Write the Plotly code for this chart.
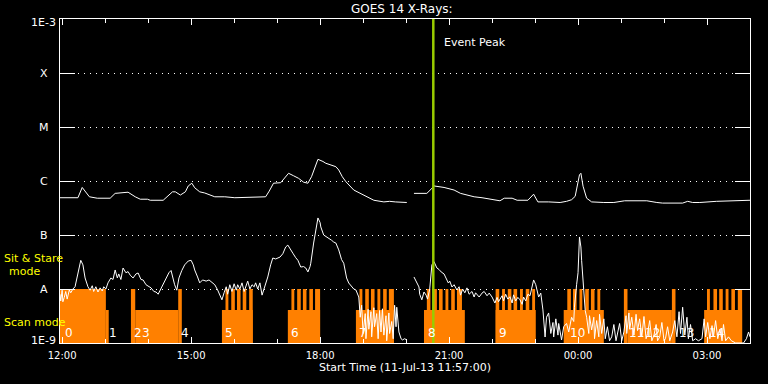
import math
import plotly.graph_objects as go

# ---------------- data ----------------
X_START = "11:57"
X_END = "04:00"
EVENT_PEAK = "20:38"

class_labels = ["1E-3", "X", "M", "C", "B", "A", "1E-9"]
class_flux = [1e-3, 1e-4, 1e-5, 1e-6, 1e-7, 1e-8, 1e-9]

# GOES 1-8 A (upper curve)
long_times = ["11:57", "12:11", "12:22", "12:28", "12:38", "12:49", "13:07", "13:14", "13:25", "13:32",
              "13:42", "13:49", "13:59", "14:03", "14:21", "14:27", "14:34", "14:38", "14:45", "14:52",
              "14:56", "15:01", "15:05", "15:12", "15:19", "15:33", "15:47", "16:01", "16:15", "16:29",
              "16:44", "16:49", "16:55", "17:05", "17:12", "17:16", "17:23", "17:30", "17:37", "17:43",
              "17:48", "17:54", "17:57", "18:04", "18:08", "18:22", "18:26", "18:31", "18:36", "18:47",
              "19:01", "19:15", "19:29", "19:37", "19:45", "19:58", "20:01", "20:06", "20:11", "20:29",
              "20:36", "20:39", "20:53", "21:07", "21:16", "21:35", "21:46", "22:00", "22:11", "22:17",
              "22:28", "22:35", "22:50", "22:58", "23:04", "23:19", "23:35", "23:44", "23:51", "23:56",
              "23:59", "00:02", "00:04", "00:07", "00:12", "00:19", "00:36", "00:50", "01:05", "01:36",
              "01:50", "01:58", "02:26", "02:33", "02:40", "02:50", "03:13", "03:36", "03:50", "04:00"]
long_flux = [4.9e-7, 4.9e-7, 4.9e-7, 7.6e-7, 5.1e-7, 4.8e-7, 4.8e-7, 5.9e-7, 6.2e-7, 6.2e-7,
             5.1e-7, 4.6e-7, 4.6e-7, 4.4e-7, 4.4e-7, 5.1e-7, 6.3e-7, 6.3e-7, 5.5e-7, 6.3e-7,
             8.1e-7, 9.1e-7, 7.5e-7, 6.3e-7, 6.0e-7, 5.1e-7, 5.1e-7, 4.9e-7, 5.0e-7, 5.1e-7,
             5.1e-7, 6.5e-7, 9.1e-7, 9.3e-7, 1.2e-6, 1.39e-6, 1.25e-6, 1.12e-6, 9.5e-7, 9.1e-7,
             1.2e-6, 2.0e-6, 2.52e-6, 2.3e-6, 2.13e-6, 1.84e-6, 1.6e-6, 1.2e-6, 9.7e-7, 6.8e-7,
             5.5e-7, 4.4e-7, 4.1e-7, 4.2e-7, 4.1e-7, 4.0e-7, 4.0e-7, None, 5.9e-7, 5.9e-7,
             7.3e-7, 8.1e-7, 7.6e-7, 6.8e-7, 5.9e-7, 5.1e-7, 4.9e-7, 4.6e-7, 4.3e-7, 4.8e-7,
             4.8e-7, 4.4e-7, 4.4e-7, 5.7e-7, 4.1e-7, 4.1e-7, 4.0e-7, 4.2e-7, 4.5e-7, 5.2e-7,
             8.0e-7, 1.3e-6, 1.39e-6, 8.0e-7, 4.8e-7, 4.1e-7, 4.0e-7, 4.0e-7, 4.3e-7, 4.3e-7,
             4.0e-7, 3.9e-7, 3.9e-7, 4.2e-7, 4.0e-7, 4.0e-7, 4.2e-7, 4.3e-7, 4.4e-7, 4.4e-7]

# GOES 0.5-4 A (lower curve)
short_times = ["11:57", "11:58", "12:00", "12:01", "12:03", "12:05", "12:07", "12:10", "12:12", "12:15",
               "12:18", "12:22", "12:26", "12:29", "12:32", "12:36", "12:39", "12:42", "12:44", "12:47",
               "12:50", "12:53", "12:56", "12:58", "13:01", "13:04", "13:08", "13:11", "13:14", "13:17",
               "13:19", "13:22", "13:25", "13:29", "13:32", "13:35", "13:39", "13:43", "13:46", "13:50",
               "13:53", "13:57", "14:01", "14:04", "14:08", "14:11", "14:14", "14:17", "14:21", "14:25",
               "14:29", "14:32", "14:35", "14:37", "14:40", "14:43", "14:47", "14:51", "14:56", "15:00",
               "15:03", "15:05", "15:09", "15:12", "15:16", "15:21", "15:25", "15:29", "15:33", "15:37",
               "15:40", "15:43", "15:46", "15:49", "15:51", "15:54", "15:57", "16:00", "16:03", "16:05",
               "16:08", "16:11", "16:14", "16:16", "16:19", "16:22", "16:25", "16:28", "16:30", "16:33",
               "16:36", "16:39", "16:43", "16:47", "16:51", "16:54", "16:58", "17:04", "17:08", "17:12",
               "17:15", "17:19", "17:22", "17:26", "17:29", "17:33", "17:37", "17:40", "17:43", "17:46",
               "17:47", "17:51", "17:54", "17:57", "18:00", "18:01", "18:05", "18:08", "18:12", "18:16",
               "18:19", "18:22", "18:26", "18:30", "18:33", "18:37", "18:40", "18:44", "18:47", "18:50",
               "18:53", "18:54", "18:56", "18:58", "19:00", "19:03", "19:04", "19:07", "19:08", "19:11",
               "19:12", "19:15", "19:16", "19:19", "19:21", "19:23", "19:25", "19:27", "19:29", "19:32",
               "19:33", "19:36", "19:37", "19:40", "19:42", "19:44", "19:46", "19:47", "19:50", "19:53",
               "19:55", "19:58", "20:01", "20:06", "20:11", "20:15", "20:18", "20:19", "20:22", "20:25",
               "20:28", "20:30", "20:33", "20:36", "20:39", "20:43", "20:46", "20:49", "20:53", "20:55",
               "20:59", "21:01", "21:04", "21:07", "21:11", "21:14", "21:16", "21:19", "21:22", "21:25",
               "21:28", "21:32", "21:35", "21:37", "21:42", "21:46", "21:49", "21:53", "21:56", "22:00",
               "22:04", "22:07", "22:09", "22:14", "22:16", "22:19", "22:22", "22:25", "22:28", "22:30",
               "22:33", "22:36", "22:39", "22:42", "22:44", "22:47", "22:50", "22:53", "22:56", "22:58",
               "23:01", "23:04", "23:05", "23:08", "23:11", "23:14", "23:16", "23:19", "23:22", "23:25",
               "23:26", "23:29", "23:32", "23:33", "23:36", "23:37", "23:40", "23:44", "23:47", "23:51",
               "23:54", "23:55", "23:58", "00:00", "00:02", "00:04", "00:05", "00:08", "00:10", "00:12",
               "00:15", "00:16", "00:19", "00:22", "00:23", "00:26", "00:29", "00:30", "00:33", "00:36",
               "00:38", "00:41", "00:44", "00:47", "00:50", "00:53", "00:55", "00:58", "01:01", "01:04",
               "01:07", "01:08", "01:11", "01:12", "01:15", "01:18", "01:21", "01:23", "01:26", "01:29",
               "01:32", "01:35", "01:37", "01:40", "01:43", "01:46", "01:49", "01:51", "01:54", "01:57",
               "02:00", "02:02", "02:05", "02:08", "02:12", "02:15", "02:18", "02:21", "02:23", "02:26",
               "02:29", "02:32", "02:34", "02:37", "02:40", "02:44", "02:48", "02:53", "02:56", "02:58",
               "03:01", "03:04", "03:07", "03:09", "03:12", "03:15", "03:18", "03:21", "03:23", "03:26",
               "03:30", "03:34", "03:40", "03:46", "03:51", "03:55", "03:58", "04:00"]
short_flux = [8.0e-9, 6.0e-9, 9.5e-9, 5.8e-9, 7.0e-9, 9.0e-9, 6.5e-9, 9.6e-9, 8.5e-9, 1.0e-8,
              1.1e-8, 2.0e-8, 3.4e-8, 2.8e-8, 1.6e-8, 1.1e-8, 9.5e-9, 1.15e-8, 9.0e-9, 1.1e-8,
              8.8e-9, 1.05e-8, 9.2e-9, 1.1e-8, 1.0e-8, 1.3e-8, 1.6e-8, 1.5e-8, 2.25e-8, 1.6e-8,
              1.9e-8, 1.5e-8, 2.45e-8, 2.0e-8, 2.1e-8, 1.8e-8, 1.6e-8, 1.9e-8, 1.98e-8, 1.5e-8,
              1.47e-8, 1.2e-8, 1.1e-8, 1.05e-8, 9.0e-9, 8.8e-9, 8.0e-9, 9.5e-9, 1.2e-8, 1.6e-8,
              2.0e-8, 2.2e-8, 1.4e-8, 1.2e-8, 9.5e-9, 1.6e-8, 2.2e-8, 2.8e-8, 3.3e-8, 3.4e-8,
              2.8e-8, 2.25e-8, 1.67e-8, 1.3e-8, 1.47e-8, 1.4e-8, 1.47e-8, 1.35e-8, 1.2e-8, 9.6e-9,
              8.0e-9, 6.3e-9, 8.5e-9, 1.1e-8, 8.0e-9, 1.2e-8, 9.0e-9, 1.25e-8, 9.5e-9, 1.2e-8,
              1.0e-8, 1.3e-8, 9.0e-9, 1.1e-8, 1.4e-8, 1.0e-8, 1.2e-8, 1.1e-8, 1.3e-8, 1.0e-8,
              1.3e-8, 7.7e-9, 1.09e-8, 1.67e-8, 2.8e-8, 3.75e-8, 3.6e-8, 3.9e-8, 4.5e-8, 6.0e-8,
              6.5e-8, 5.5e-8, 4.6e-8, 3.8e-8, 3.4e-8, 2.55e-8, 2.6e-8, 2.45e-8, 2.07e-8, 2.6e-8,
              3.0e-8, 7.1e-8, 1.3e-7, 2.07e-7, 1.7e-7, 1.41e-7, 1.0e-7, 9.5e-8, 8.8e-8, 8.0e-8,
              7.4e-8, 7.1e-8, 5.3e-8, 3.5e-8, 3.0e-8, 1.6e-8, 1.29e-8, 1.09e-8, 1.0e-8, 9.6e-9,
              8.0e-9, 7.1e-9, 3.0e-9, 5.0e-9, 1.5e-9, 3.5e-9, 1.2e-9, 4.2e-9, 1.8e-9, 3.8e-9,
              1.3e-9, 4.5e-9, 2.0e-9, 3.5e-9, 1.2e-9, 4.0e-9, 1.6e-9, 4.3e-9, 1.4e-9, 3.2e-9,
              1.1e-9, 3.6e-9, 1.5e-9, 2.5e-9, 1.2e-9, 5.0e-9, 2.0e-9, 4.6e-9, 1.6e-9, 1.2e-9,
              1.14e-9, 1.2e-9, 1.14e-9, None, 1.67e-8, 1.3e-8, 1.09e-8, 8.0e-9, 6.3e-9, 8.8e-9,
              7.7e-9, 6.5e-9, 1.0e-8, 2.8e-8, 3.2e-8, 2.45e-8, 2.3e-8, 2.07e-8, 1.9e-8, 1.67e-8,
              1.29e-8, 1.4e-8, 1.09e-8, 1.2e-8, 9.6e-9, 1.1e-8, 7.7e-9, 1.0e-8, 8.5e-9, 1.05e-8,
              8.0e-9, 9.0e-9, 7.1e-9, 8.5e-9, 7.1e-9, 8.4e-9, 9.0e-9, 7.5e-9, 8.4e-9, 7.1e-9,
              5.5e-9, 7.0e-9, 5.8e-9, 7.5e-9, 6.0e-9, 8.0e-9, 6.5e-9, 7.2e-9, 5.5e-9, 7.8e-9,
              6.0e-9, 7.0e-9, 6.3e-9, 5.2e-9, 7.1e-9, 6.0e-9, 8.0e-9, 7.5e-9, 1.1e-8, 1.47e-8,
              1.2e-8, 8.0e-9, 7.1e-9, 8.4e-9, 4.1e-9, 1.29e-9, 3.0e-9, 3.6e-9, 1.5e-9, 2.4e-9,
              1.29e-9, 2.8e-9, 1.4e-9, 2.3e-9, 1.3e-9, 1.14e-9, 2.0e-9, 2.3e-9, 1.6e-9, 3.0e-9,
              2.5e-9, 4.6e-9, 1.2e-8, 2.0e-8, 9.2e-8, 6.0e-8, 3.4e-8, 8.4e-9, 4.0e-9, 3.0e-9,
              1.5e-9, 3.2e-9, 1.74e-9, 3.0e-9, 1.2e-9, 2.6e-9, 1.3e-9, 3.4e-9, 1.5e-9, 2.8e-9,
              1.2e-9, 2.0e-9, 1.1e-9, 1.3e-9, 2.2e-9, 1.1e-9, 1.5e-9, 2.3e-9, 1.1e-9, 1.6e-9,
              3.2e-9, 1.5e-9, 3.6e-9, 1.8e-9, 3.0e-9, 1.4e-9, 3.4e-9, 1.7e-9, 2.8e-9, 1.3e-9,
              3.1e-9, 1.2e-9, 1.5e-9, 2.6e-9, 1.1e-9, 1.4e-9, 2.2e-9, 1.1e-9, 1.3e-9, 2.4e-9,
              1.1e-9, 1.2e-9, 2.0e-9, 1.1e-9, 1.6e-9, 2.6e-9, 1.3e-9, 3.8e-9, 1.5e-9, 4.6e-9,
              1.4e-9, 3.0e-9, 1.2e-9, 2.2e-9, 1.1e-9, 1.2e-9, 1.1e-9, 1.2e-9, 2.8e-9, 1.3e-9,
              2.4e-9, 1.2e-9, 2.1e-9, 1.3e-9, 2.6e-9, 1.2e-9, 1.8e-9, 1.1e-9, 2.2e-9, 1.1e-9,
              1.3e-9, 1.1e-9, 1.0e-9, 1.0e-9, 1.0e-9, 1.2e-9, 1.6e-9, 1.3e-9]

# Observation modes (orange band)
scan_start = ["13:01", "13:42", "15:43", "17:15", "18:50", "20:25", "22:05", "23:40", "01:09", "02:56"]
scan_end = ["13:05", "14:42", "16:26", "18:00", "19:43", "21:22", "23:01", "00:36", "02:11", "03:49"]
stare_start = ["11:57", "13:36", "14:42",
               "15:48", "15:56", "16:04", "16:12", "16:21",
               "17:20", "17:28", "17:36", "17:45", "17:53",
               "18:55", "19:03", "19:11", "19:20", "19:28", "19:36",
               "20:29", "20:38", "20:46", "20:55", "21:03", "21:11",
               "22:05", "22:14", "22:22", "22:30", "22:39", "22:47", "22:56",
               "23:45", "23:53", "00:02", "00:10", "00:18", "00:27",
               "01:04", "02:11",
               "03:00", "03:09", "03:17", "03:26", "03:34", "03:43"]
stare_end = ["13:01", "13:42", "14:47",
             "15:52", "16:01", "16:09", "16:17", "16:26",
             "17:24", "17:33", "17:41", "17:50", "18:00",
             "18:59", "19:08", "19:16", "19:24", "19:33", "19:43",
             "20:34", "20:43", "20:51", "20:59", "21:08", "21:18",
             "22:10", "22:18", "22:27", "22:35", "22:43", "22:52", "23:00",
             "23:50", "23:58", "00:06", "00:15", "00:23", "00:31",
             "01:09", "02:16",
             "03:04", "03:14", "03:22", "03:30", "03:39", "03:49"]

obs_labels = ["0", "1", "2", "3", "4", "5", "6", "7", "8", "9", "10", "11", "12", "13", "14"]
obs_times = ["12:01", "13:03", "13:37", "13:48", "14:43", "15:44", "17:16", "18:51", "20:28",
             "22:07", "23:46", "01:08", "01:30", "02:18", "03:00"]

FLUX_BOTTOM = 1e-9
STARE_TOP = 1e-8
SCAN_TOP = 4.1e-9


def ts(hhmm):
    h, m = map(int, hhmm.split(":"))
    day = 11 if (h, m) >= (11, 57) else 12
    return f"2013-07-{day} {h:02d}:{m:02d}"


def blocks(starts, ends, top):
    xs, ys = [], []
    for a, b in zip(starts, ends):
        xs += [ts(a), ts(a), ts(b), ts(b), ts(a), None]
        ys += [FLUX_BOTTOM, top, top, FLUX_BOTTOM, FLUX_BOTTOM, None]
    return xs, ys


ORANGE = "#FF8000"
FONT = "DejaVu Sans"

fig = go.Figure()

sx, sy = blocks(scan_start, scan_end, SCAN_TOP)
fig.add_trace(go.Scatter(x=sx, y=sy, mode="lines", fill="toself", fillcolor=ORANGE,
                         line=dict(width=0, color=ORANGE), hoverinfo="skip", showlegend=False))
tx, ty = blocks(stare_start, stare_end, STARE_TOP)
fig.add_trace(go.Scatter(x=tx, y=ty, mode="lines", fill="toself", fillcolor=ORANGE,
                         line=dict(width=0, color=ORANGE), hoverinfo="skip", showlegend=False))

fig.add_trace(go.Scatter(x=[ts(t) for t in short_times], y=short_flux, mode="lines",
                         line=dict(color="white", width=1), connectgaps=False, showlegend=False))
fig.add_trace(go.Scatter(x=[ts(t) for t in long_times], y=long_flux, mode="lines",
                         line=dict(color="white", width=1), connectgaps=False, showlegend=False))

annotations = []
for lab, v in zip(class_labels, class_flux):
    if lab.startswith("1E"):
        annotations.append(dict(x=0, xref="paper", y=math.log10(v), yref="y", text=lab,
                                xanchor="right", yanchor="middle", xshift=-2,
                                yshift=-3 if v > 1e-6 else 3, showarrow=False,
                                font=dict(family=FONT, size=11, color="white")))
    else:
        annotations.append(dict(x=0, xref="paper", y=math.log10(v), yref="y", text=lab,
                                xanchor="center", yanchor="middle", xshift=-16, showarrow=False,
                                font=dict(family=FONT, size=11, color="white")))

for lab, t in zip(obs_labels, obs_times):
    annotations.append(dict(x=ts(t), xref="x", y=0.031, yref="paper", text=lab,
                            xanchor="left", yanchor="middle", showarrow=False,
                            font=dict(family=FONT, size=12, color="white")))

yellow = dict(family=FONT, size=11, color="#FFFF00")
annotations += [
    dict(x=0, xref="paper", xshift=-58, y=0.262, yref="paper", text="Sit & Stare",
         xanchor="left", yanchor="middle", showarrow=False, font=yellow),
    dict(x=0, xref="paper", xshift=-36, y=0.222, yref="paper", text="mode",
         xanchor="center", yanchor="middle", showarrow=False, font=yellow),
    dict(x=0, xref="paper", xshift=-58, y=0.063, yref="paper", text="Scan mode",
         xanchor="left", yanchor="middle", showarrow=False, font=yellow),
    dict(x=ts(EVENT_PEAK), xref="x", xshift=9, y=0.926, yref="paper", text="Event Peak",
         xanchor="left", yanchor="middle", showarrow=False,
         font=dict(family=FONT, size=11, color="white")),
    dict(x=0.4957, xref="paper", y=1.031, yref="paper", text="GOES 14 X-Rays:",
         xanchor="center", yanchor="middle", showarrow=False,
         font=dict(family=FONT, size=12, color="white")),
    dict(x=0.5007, xref="paper", y=-0.077, yref="paper", text="Start Time (11-Jul-13 11:57:00)",
         xanchor="center", yanchor="middle", showarrow=False,
         font=dict(family=FONT, size=11, color="white")),
]

fig.add_shape(type="line", x0=ts(EVENT_PEAK), x1=ts(EVENT_PEAK), xref="x", y0=0, y1=1, yref="paper",
              line=dict(color="#99CC00", width=2.5), layer="above")

fig.update_layout(
    width=768, height=384,
    margin=dict(l=60, r=18, t=19, b=41),
    paper_bgcolor="black", plot_bgcolor="black",
    showlegend=False,
    annotations=annotations,
    xaxis=dict(type="date", range=[ts(X_START), ts(X_END)], showgrid=False, zeroline=False,
               showline=True, linecolor="white", linewidth=1, mirror="ticks",
               ticks="inside", ticklen=6, tickwidth=1, tickcolor="white",
               tick0=ts("12:00"), dtick=3 * 3600 * 1000, tickformat="%H:%M",
               ticklabelstandoff=3,
               tickfont=dict(family=FONT, size=10, color="white"),
               minor=dict(dtick=3600 * 1000, ticks="inside", ticklen=4, tickcolor="white",
                          tickwidth=1, showgrid=False)),
    yaxis=dict(type="log", range=[-9, -3], tickvals=class_flux, showticklabels=False,
               ticks="inside", ticklen=15, tickwidth=1, tickcolor="white",
               showline=True, linecolor="white", linewidth=1, mirror="ticks",
               showgrid=True, gridcolor="white", gridwidth=1, griddash="1px,5px",
               zeroline=False),
)

fig.write_html("out.html", config={"displayModeBar": False},
               post_script="document.body.style.margin='0px';document.body.style.background='black';")
